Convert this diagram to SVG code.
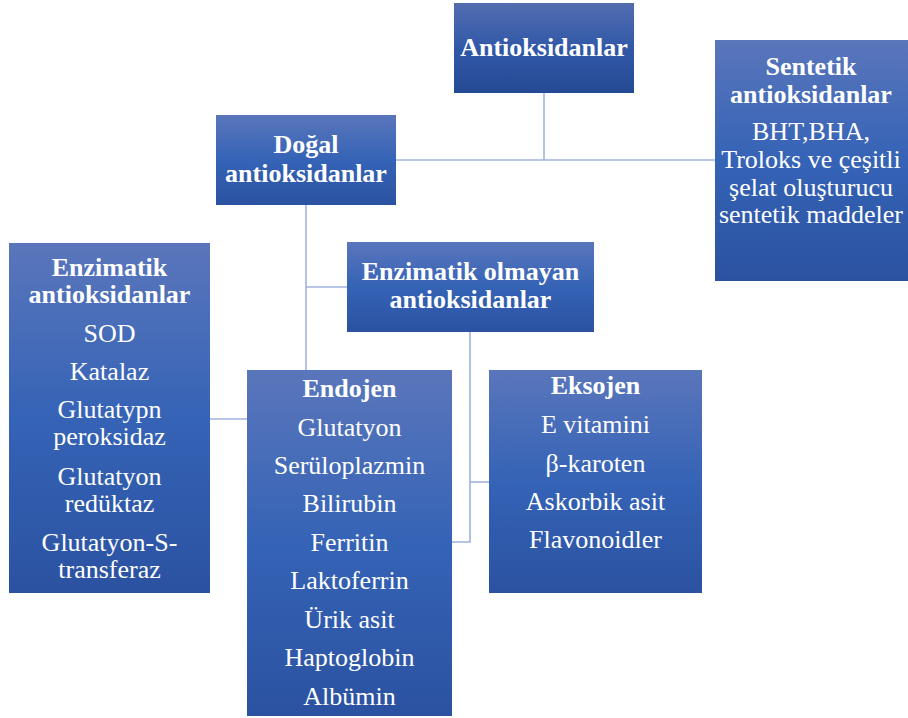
<svg xmlns="http://www.w3.org/2000/svg" width="908" height="718" viewBox="0 0 908 718">
<defs>
<linearGradient id="g" x1="0" y1="0" x2="0" y2="1">
<stop offset="0" stop-color="#5a76bb"/>
<stop offset="0.5" stop-color="#3563b6"/>
<stop offset="1" stop-color="#2b52a1"/>
</linearGradient>
<linearGradient id="g2" x1="0" y1="0" x2="0" y2="1">
<stop offset="0" stop-color="#526dae"/>
<stop offset="0.5" stop-color="#3158a8"/>
<stop offset="1" stop-color="#254a94"/>
</linearGradient>
</defs>
<style>
rect.box{fill:url(#g);}
text{font-family:"Liberation Serif","Times New Roman",serif;font-size:26px;fill:#ffffff;text-anchor:middle;}
text.b{font-weight:bold;}
.conn path{fill:none;stroke:#9fb2de;stroke-width:1.6;}
</style>
<g class="conn" id="connectors">
<path d="M544,93 V160"/>
<path d="M396,160 H715"/>
<path d="M306,205 V370"/>
<path d="M306,287 H347"/>
<path d="M470,332 V542 H452"/>
<path d="M470,482 H489"/>
<path d="M210,419 H247"/>
</g>
<g id="antioksidanlar">
<rect class="box" x="454" y="3" width="180" height="90" style="fill:url(#g2)"/>
<text class="b" x="544" y="56">Antioksidanlar</text>
</g>
<g id="sentetik">
<rect class="box" x="715" y="40" width="193" height="241"/>
<text class="b" x="811" y="75">Sentetik</text>
<text class="b" x="811" y="103">antioksidanlar</text>
<text x="811" y="140">BHT,BHA,</text>
<text x="811" y="168">Troloks ve çeşitli</text>
<text x="811" y="196">şelat oluşturucu</text>
<text x="811" y="223">sentetik maddeler</text>
</g>
<g id="dogal">
<rect class="box" x="216" y="115" width="180" height="90"/>
<text class="b" x="306" y="153">Doğal</text>
<text class="b" x="306" y="182">antioksidanlar</text>
</g>
<g id="enzimatik-olmayan">
<rect class="box" x="347" y="242" width="247" height="90"/>
<text class="b" x="470.5" y="280">Enzimatik olmayan</text>
<text class="b" x="470.5" y="308">antioksidanlar</text>
</g>
<g id="enzimatik">
<rect class="box" x="9" y="243" width="201" height="350"/>
<text class="b" x="109.5" y="276">Enzimatik</text>
<text class="b" x="109.5" y="303">antioksidanlar</text>
<text x="109.5" y="342">SOD</text>
<text x="109.5" y="380">Katalaz</text>
<text x="109.5" y="418">Glutatypn</text>
<text x="109.5" y="445">peroksidaz</text>
<text x="109.5" y="485">Glutatyon</text>
<text x="109.5" y="512">redüktaz</text>
<text x="109.5" y="551">Glutatyon-S-</text>
<text x="109.5" y="578">transferaz</text>
</g>
<g id="endojen">
<rect class="box" x="247" y="370" width="205" height="346"/>
<text class="b" x="349.5" y="397">Endojen</text>
<text x="349.5" y="436">Glutatyon</text>
<text x="349.5" y="474">Serüloplazmin</text>
<text x="349.5" y="512">Bilirubin</text>
<text x="349.5" y="551">Ferritin</text>
<text x="349.5" y="589">Laktoferrin</text>
<text x="349.5" y="628">Ürik asit</text>
<text x="349.5" y="666">Haptoglobin</text>
<text x="349.5" y="705">Albümin</text>
</g>
<g id="eksojen">
<rect class="box" x="489" y="370" width="213" height="223"/>
<text class="b" x="595.5" y="394">Eksojen</text>
<text x="595.5" y="433">E vitamini</text>
<text x="595.5" y="472">β-karoten</text>
<text x="595.5" y="510">Askorbik asit</text>
<text x="595.5" y="548">Flavonoidler</text>
</g>
</svg>
